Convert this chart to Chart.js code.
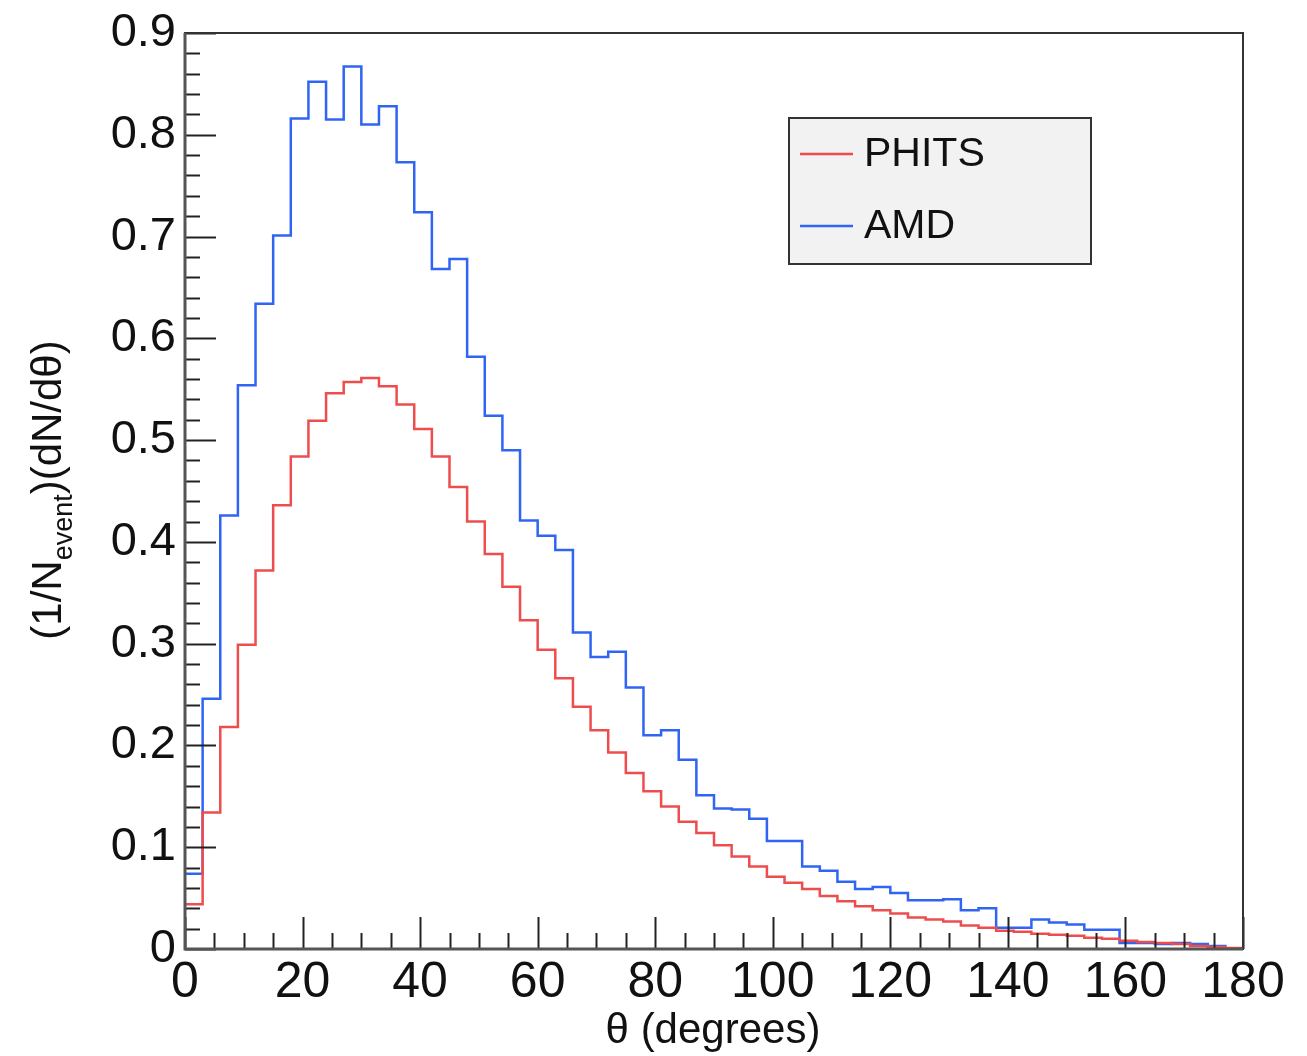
<!DOCTYPE html>
<html lang="en">
<head>
  <meta charset="UTF-8">
  <title>Angular distribution - PHITS vs AMD</title>
  <script src="https://cdn.jsdelivr.net/npm/chart.js@4.4.0/dist/chart.umd.min.js"></script>
  <style>
    html, body { margin: 0; padding: 0; background: #fff; }
    canvas { display: block; }
  </style>
</head>
<body>
  <canvas id="grafico" width="1307" height="1056"></canvas>

<script>
  // bins de 3 graus, de 0 a 180
  const larguraBin = 3;
  const thetaMin = 0;
  const thetaMax = 180;
  const bordasBin = Array.from({ length: 60 }, (_, i) => thetaMin + i * larguraBin);

  // valores
  const phits = [
    0.044, 0.134, 0.218, 0.299, 0.372, 0.436, 0.484, 0.519, 0.546, 0.557,
    0.561, 0.553, 0.535, 0.511, 0.484, 0.454, 0.420, 0.388, 0.356, 0.323,
    0.294, 0.266, 0.238, 0.215, 0.193, 0.173, 0.155, 0.140, 0.125, 0.114,
    0.102, 0.091, 0.081, 0.071, 0.065, 0.059, 0.052, 0.047, 0.042, 0.038,
    0.035, 0.031, 0.029, 0.027, 0.023, 0.021, 0.018, 0.017, 0.015, 0.014,
    0.013, 0.011, 0.010, 0.008, 0.007, 0.006, 0.005, 0.003, 0.002, 0.001
  ];
  const amd = [
    0.074, 0.246, 0.426, 0.554, 0.634, 0.701, 0.816, 0.852, 0.815, 0.867,
    0.810, 0.828, 0.773, 0.724, 0.668, 0.678, 0.582, 0.524, 0.490, 0.421,
    0.406, 0.392, 0.311, 0.287, 0.292, 0.257, 0.210, 0.215, 0.186, 0.151,
    0.138, 0.137, 0.128, 0.106, 0.106, 0.081, 0.077, 0.066, 0.059, 0.061,
    0.055, 0.048, 0.048, 0.049, 0.038, 0.040, 0.021, 0.021, 0.029, 0.026,
    0.024, 0.019, 0.019, 0.006, 0.006, 0.005, 0.006, 0.005, 0.003, 0.0005
  ];

  const ticksX = [0, 20, 40, 60, 80, 100, 120, 140, 160, 180];
  const ticksY = [0, 0.1, 0.2, 0.3, 0.4, 0.5, 0.6, 0.7, 0.8, 0.9];

  const corPhits = '#ee4d4d';
  const corAmd = '#3064f2';
  const fonte = '"Liberation Sans", Arial, Helvetica, sans-serif';

  // histograma: um ponto por borda inferior + o ultimo ponto em 180
  function montarPontos(valores) {
    const pts = bordasBin.map((x, i) => ({ x: x, y: valores[i] }));
    pts.push({ x: thetaMax, y: valores[valores.length - 1] });
    return pts;
  }

  // ticks para dentro, moldura, legenda e titulos (estilo ROOT)
  const estiloRoot = {
    id: 'estiloRoot',
    afterDraw(chart) {
      const ctx = chart.ctx;
      const area = chart.chartArea;
      const sx = chart.scales.x;
      const sy = chart.scales.y;

      ctx.save();
      ctx.strokeStyle = '#222';
      ctx.lineWidth = 2;

      // ticks do eixo x: menor a cada 5, maior a cada 20
      for (let i = 0; i <= 36; i++) {
        const px = Math.round(sx.getPixelForValue(i * 5)) + 0.5;
        const len = (i % 4 === 0) ? 32 : 16;
        ctx.beginPath();
        ctx.moveTo(px, area.bottom);
        ctx.lineTo(px, area.bottom - len);
        ctx.stroke();
      }
      // ticks do eixo y: menor a cada 0.02, maior a cada 0.1
      for (let i = 0; i <= 45; i++) {
        const py = Math.round(sy.getPixelForValue(i * 0.02)) + 0.5;
        const len = (i % 5 === 0) ? 31 : 15;
        ctx.beginPath();
        ctx.moveTo(area.left, py);
        ctx.lineTo(area.left + len, py);
        ctx.stroke();
      }

      // moldura
      ctx.strokeStyle = '#333';
      ctx.lineWidth = 2;
      ctx.strokeRect(area.left, area.top, area.right - area.left, area.bottom - area.top);
      ctx.strokeStyle = '#555';
      ctx.lineWidth = 3;
      ctx.beginPath();
      ctx.moveTo(area.left, area.top);
      ctx.lineTo(area.left, area.bottom);
      ctx.lineTo(area.right, area.bottom);
      ctx.stroke();

      // legenda
      const lx = 789, ly = 118, lw = 302, lh = 146;
      ctx.fillStyle = '#f2f2f2';
      ctx.fillRect(lx, ly, lw, lh);
      ctx.strokeStyle = '#333';
      ctx.lineWidth = 2;
      ctx.strokeRect(lx, ly, lw, lh);
      ctx.font = '41px ' + fonte;
      ctx.textBaseline = 'middle';
      ctx.textAlign = 'left';
      chart.data.datasets.forEach((ds, i) => {
        const yy = 154 + i * 72;
        ctx.strokeStyle = ds.borderColor;
        ctx.lineWidth = 2.5;
        ctx.beginPath();
        ctx.moveTo(800, yy);
        ctx.lineTo(853, yy);
        ctx.stroke();
        ctx.fillStyle = '#111';
        ctx.fillText(ds.label, 864, yy + 1);
      });

      // titulo do eixo x
      ctx.fillStyle = '#111';
      ctx.font = '42px ' + fonte;
      ctx.textAlign = 'center';
      ctx.textBaseline = 'middle';
      ctx.fillText('\u03b8 (degrees)', 713, 1031);

      // titulo do eixo y com subscrito
      ctx.translate(46, 490);
      ctx.rotate(-Math.PI / 2);
      const parte1 = '(1/N';
      const sub = 'event';
      const parte2 = ')(dN/d\u03b8)';
      ctx.font = '42px ' + fonte;
      const w1 = ctx.measureText(parte1).width;
      const w2 = ctx.measureText(parte2).width;
      ctx.font = '27px ' + fonte;
      const ws = ctx.measureText(sub).width;
      let x0 = -(w1 + ws + w2) / 2;
      ctx.textAlign = 'left';
      ctx.textBaseline = 'alphabetic';
      ctx.font = '42px ' + fonte;
      ctx.fillText(parte1, x0, 15);
      ctx.font = '27px ' + fonte;
      ctx.fillText(sub, x0 + w1, 26);
      ctx.font = '42px ' + fonte;
      ctx.fillText(parte2, x0 + w1 + ws, 15);

      ctx.restore();
    }
  };

  const data = {
    datasets: [
      {
        label: 'PHITS',
        data: montarPontos(phits),
        borderColor: corPhits,
        backgroundColor: corPhits,
        borderWidth: 2.5,
        stepped: 'before',
        pointRadius: 0,
        fill: false
      },
      {
        label: 'AMD',
        data: montarPontos(amd),
        borderColor: corAmd,
        backgroundColor: corAmd,
        borderWidth: 2.5,
        stepped: 'before',
        pointRadius: 0,
        fill: false
      }
    ]
  };

  const config = {
    type: 'line',
    data: data,
    options: {
      responsive: false,
      animation: false,
      devicePixelRatio: 1,
      layout: { padding: { top: 33, right: 64, left: 0, bottom: 0 } },
      plugins: {
        legend: { display: false },
        tooltip: { enabled: false },
        title: { display: false }
      },
      scales: {
        x: {
          type: 'linear',
          min: thetaMin,
          max: thetaMax,
          afterFit(scale) {
            scale.height = 107;
            scale.paddingLeft = 0;
            scale.paddingRight = 0;
          },
          afterBuildTicks(scale) { scale.ticks = ticksX.map(v => ({ value: v })); },
          grid: { display: false, drawTicks: false },
          border: { display: false },
          ticks: {
            color: '#111',
            padding: 4,
            maxRotation: 0,
            autoSkip: false,
            font: { family: '"Liberation Sans Narrow", "Liberation Sans", Arial, sans-serif', size: 50 },
            callback: v => String(v)
          }
        },
        y: {
          type: 'linear',
          min: 0,
          max: 0.9,
          afterFit(scale) {
            scale.width = 185;
            scale.paddingTop = 0;
            scale.paddingBottom = 0;
          },
          afterBuildTicks(scale) { scale.ticks = ticksY.map(v => ({ value: v })); },
          grid: { display: false, drawTicks: false },
          border: { display: false },
          ticks: {
            color: '#111',
            padding: 9,
            autoSkip: false,
            font: { family: fonte, size: 47 },
            callback: v => v === 0 ? '0' : v.toFixed(1)
          }
        }
      }
    },
    plugins: [estiloRoot]
  };

  const grafico = new Chart(document.getElementById('grafico'), config);
</script>
</body>
</html>
